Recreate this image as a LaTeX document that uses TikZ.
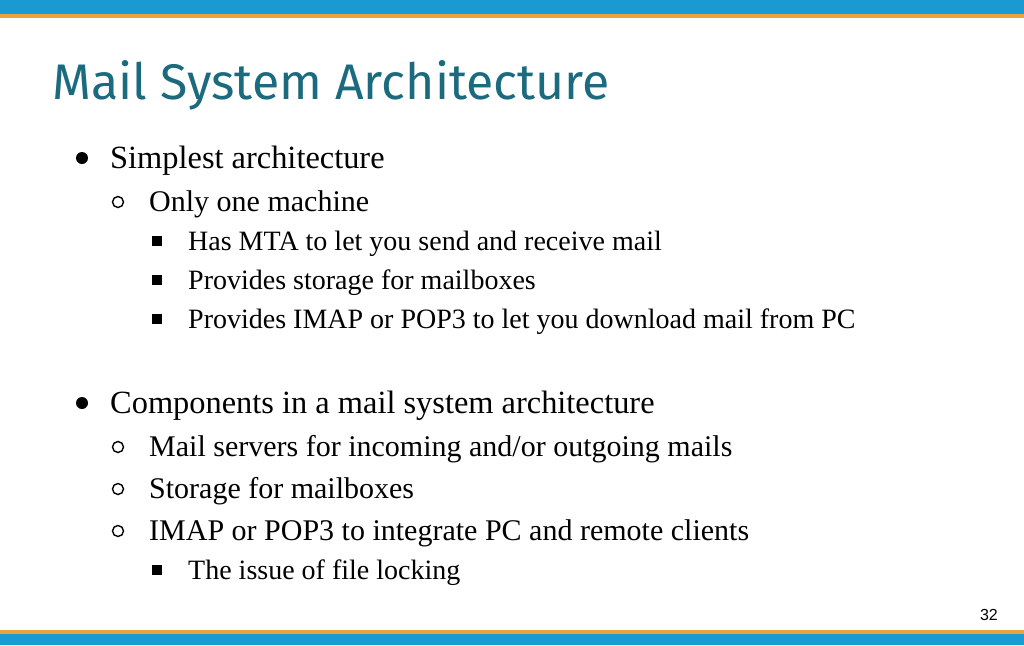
\documentclass[tikz,border=0pt]{standalone}
\usepackage{fontspec}
\setmainfont{Liberation Serif}
\newfontfamily\titlefont{Fira Sans}
\newfontfamily\numfont{Liberation Sans}
\definecolor{topblue}{HTML}{1A9AD3}
\definecolor{barorange}{HTML}{E8A33A}
\definecolor{titleteal}{HTML}{1B6A7E}
\begin{document}
\begin{tikzpicture}[x=1pt,y=-1pt,
  lA/.style={anchor=base west,inner sep=0pt,font=\fontsize{32.4}{34}\selectfont},
  lB/.style={anchor=base west,inner sep=0pt,font=\fontsize{30}{32}\selectfont},
  lC/.style={anchor=base west,inner sep=0pt,font=\fontsize{28}{30}\selectfont}]
\useasboundingbox (0,0) rectangle (1024,645);
\fill[white] (0,0) rectangle (1024,645);
\fill[topblue] (0,0) rectangle (1024,14);
\fill[barorange] (0,14) rectangle (1024,18);
\fill[barorange] (0,630) rectangle (1024,634);
\fill[topblue] (0,634) rectangle (1024,645);
\node[anchor=base west,inner sep=0pt,text=titleteal,font=\titlefont\fontsize{50}{52}\selectfont] (title) at (52,99) {Mail System Architecture};
\def\bA#1{\fill (82,#1-10) circle (6);}
\def\bB#1{\draw[line width=1.4pt] (118,#1-9) circle (5.5);}
\def\bC#1{\fill (152,#1-14) rectangle +(10,10);}
\bA{168}\node[lA] (t1) at (110,168) {Simplest architecture};
\bB{211}\node[lB] (t2) at (149,211) {Only one machine};
\bC{250}\node[lC] (t3) at (188,250) {Has MTA to let you send and receive mail};
\bC{289}\node[lC] (t4) at (188,289) {Provides storage for mailboxes};
\bC{328}\node[lC] (t5) at (188,328) {Provides IMAP or POP3 to let you download mail from PC};
\bA{413}\node[lA] (t6) at (110,413) {Components in a mail system architecture};
\bB{456}\node[lB] (t7) at (149,456) {Mail servers for incoming and/or outgoing mails};
\bB{498}\node[lB] (t8) at (149,498) {Storage for mailboxes};
\bB{540}\node[lB] (t9) at (149,540) {IMAP or POP3 to integrate PC and remote clients};
\bC{579}\node[lC] (t10) at (188,579) {The issue of file locking};
\node[anchor=base east,inner sep=0pt,font=\numfont\fontsize{16}{18}\selectfont] (num) at (998,620) {32};
\end{tikzpicture}
\end{document}
